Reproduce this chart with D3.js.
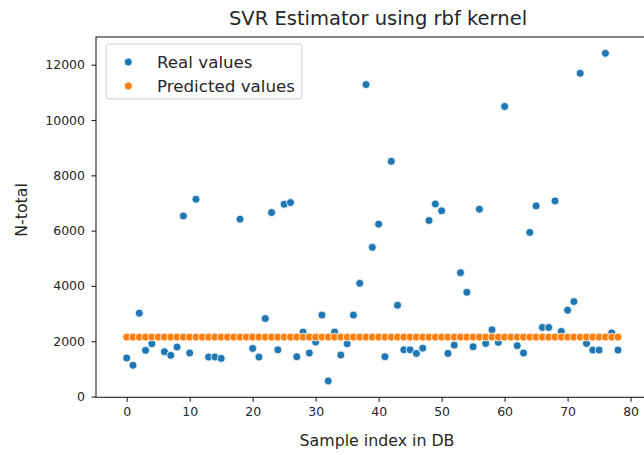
<!DOCTYPE html>
<html>
<head>
<meta charset="utf-8">
<script src="https://cdn.jsdelivr.net/npm/d3@7/dist/d3.min.js"></script>
<style>
  body { margin: 0; background: #fff; }
  text { font-family: "DejaVu Sans", sans-serif; fill: #262626; }
</style>
</head>
<body>
<svg id="chart" width="644" height="455"></svg>
<script>
// Measured N-total per sample (index = position in the array)
const realValues = [
  1395, 1130, 3015, 1670, 1910, 2150, 1620, 1490, 1790, 6530,
  1575, 7135, 2150, 1430, 1430, 1380, 2150, 2150, 6415, 2150,
  1740, 1430, 2820, 6655, 1690, 6955, 7015, 1440, 2330, 1575,
  1970, 2945, 565, 2330, 1500, 1910, 2945, 4095, 11280, 5395,
  6235, 1440, 8505, 3300, 1690, 1690, 1560, 1750, 6365, 6965,
  6715, 1560, 1860, 4480, 3770, 1800, 6775, 1920, 2415, 1960,
  10490, 2150, 1840, 1575, 5935, 6895, 2500, 2500, 7075, 2355,
  3125, 3435, 11690, 1920, 1680, 1680, 12410, 2300, 1680
];

// SVR (rbf) predictions for the same samples
const predictedValues = [
  2150, 2150, 2150, 2150, 2150, 2150, 2150, 2150, 2150, 2150,
  2150, 2150, 2150, 2150, 2150, 2150, 2150, 2150, 2150, 2150,
  2150, 2150, 2150, 2150, 2150, 2150, 2150, 2150, 2150, 2150,
  2150, 2150, 2150, 2150, 2150, 2150, 2150, 2150, 2150, 2150,
  2150, 2150, 2150, 2150, 2150, 2150, 2150, 2150, 2150, 2150,
  2150, 2150, 2150, 2150, 2150, 2150, 2150, 2150, 2150, 2150,
  2150, 2150, 2150, 2150, 2150, 2150, 2150, 2150, 2150, 2150,
  2150, 2150, 2150, 2150, 2150, 2150, 2150, 2150, 2150
];

const xTicks = [0, 10, 20, 30, 40, 50, 60, 70, 80];
const yTicks = [0, 2000, 4000, 6000, 8000, 10000, 12000];
const seriesNames = ["Real values", "Predicted values"];
const seriesColors = ["#1f77b4", "#ff7f0e"];

const svg = d3.select("#chart");
const plotLeft = 96, plotRight = 652, plotTop = 37, plotBottom = 397.3;

const xScale = d3.scaleLinear().domain([-4.87, 83.4]).range([plotLeft, plotRight]);
const yScale = d3.scaleLinear().domain([-27, 13002]).range([plotBottom, plotTop]);

// Frame
svg.append("rect")
  .attr("x", plotLeft).attr("y", plotTop)
  .attr("width", plotRight - plotLeft).attr("height", plotBottom - plotTop)
  .attr("fill", "none").attr("stroke", "#222").attr("stroke-width", 1.1);

// Axes
const xAxis = svg.append("g")
  .attr("transform", `translate(0,${plotBottom})`)
  .call(d3.axisBottom(xScale).tickValues(xTicks).tickSize(4.5).tickPadding(5).tickFormat(d3.format("d")));
const yAxis = svg.append("g")
  .attr("transform", `translate(${plotLeft},0)`)
  .call(d3.axisLeft(yScale).tickValues(yTicks).tickSize(4.5).tickPadding(6.5).tickFormat(d3.format("d")));
[xAxis, yAxis].forEach(g => {
  g.select(".domain").remove();
  g.selectAll(".tick line").attr("stroke", "#222").attr("stroke-width", 1.1);
  g.selectAll(".tick text").style("font-size", "12.5px").attr("fill", "#262626")
    .style("font-family", "DejaVu Sans, sans-serif");
});

// Points: real values first, predictions drawn on top
const plot = svg.append("g");
plot.selectAll("circle.real").data(realValues).join("circle")
  .attr("class", "real")
  .attr("cx", (d, i) => xScale(i)).attr("cy", d => yScale(d))
  .attr("r", 4).attr("fill", seriesColors[0])
  .attr("stroke", "#fff").attr("stroke-width", 0.8);
plot.selectAll("circle.pred").data(predictedValues).join("circle")
  .attr("class", "pred")
  .attr("cx", (d, i) => xScale(i)).attr("cy", d => yScale(d))
  .attr("r", 4).attr("fill", seriesColors[1])
  .attr("stroke", "#fff").attr("stroke-width", 0.8);

// Title and axis labels
svg.append("text").attr("x", 378).attr("y", 25).attr("text-anchor", "middle")
  .style("font-size", "19.5px").text("SVR Estimator using rbf kernel");
svg.append("text").attr("x", 377).attr("y", 446).attr("text-anchor", "middle")
  .style("font-size", "15.8px").text("Sample index in DB");
svg.append("text").attr("transform", "translate(27,210) rotate(-90)").attr("text-anchor", "middle")
  .style("font-size", "15.8px").text("N-total");

// Legend
const legend = svg.append("g");
legend.append("rect").attr("x", 106).attr("y", 44).attr("width", 196).attr("height", 55)
  .attr("rx", 3).attr("fill", "#fff").attr("fill-opacity", 0.8)
  .attr("stroke", "#d0d0d0").attr("stroke-width", 1);
seriesNames.forEach((name, i) => {
  const cy = 62 + i * 24;
  legend.append("circle").attr("cx", 128.3).attr("cy", cy).attr("r", 4)
    .attr("fill", seriesColors[i]).attr("stroke", "#fff").attr("stroke-width", 0.8);
  legend.append("text").attr("x", 157).attr("y", cy + 6)
    .style("font-size", "16.7px").text(name);
});
</script>
</body>
</html>
